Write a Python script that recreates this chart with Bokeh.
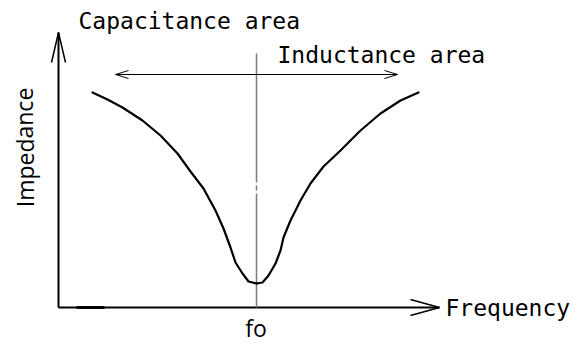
from bokeh.plotting import figure
from bokeh.models import Range1d
from bokeh.core.properties import value
from bokeh.embed import file_html
from bokeh.resources import INLINE

# Impedance curve (arbitrary units, origin at axis intersection)
freq_left = [34, 49, 64, 84, 102, 119, 132, 145, 157, 165, 172, 177, 184, 190, 198]
imp_left = [215, 208, 200, 187, 172, 154, 136, 119, 97, 79, 60, 45, 34, 26, 24]
freq_right = [198, 204, 210, 217, 222, 225, 232, 242, 252, 265, 282, 302, 322, 342, 360]
imp_right = [24, 25, 32, 44, 57, 70, 87, 107, 124, 141, 157, 177, 194, 207, 215]
fo = 198

x_label = "Frequency"
y_label = "Impedance"
cap_label = "Capacitance area"
ind_label = "Inductance area"
fo_label = "fo"

p = figure(width=587, height=345, output_backend="svg", toolbar_location=None,
           x_range=Range1d(-58, 529), y_range=Range1d(-38, 307),
           x_axis_type=None, y_axis_type=None, min_border=0)
p.grid.visible = False
p.outline_line_color = None
p.background_fill_color = "white"
p.border_fill_color = "white"

# axes with open arrow heads
p.line([0, 0], [0, 275], line_color="black", line_width=2)
p.line([-7, 0, 7], [245, 275, 245], line_color="black", line_width=1.5)
p.line([0, 381], [0, 0], line_color="black", line_width=2)
p.line([352, 381, 352], [8, 0, -8], line_color="black", line_width=1.5)
p.line([18, 46], [0, 0], line_color="black", line_width=3)

# vertical fo line (gray, with small gaps)
p.multi_line([[fo, fo], [fo, fo], [fo, fo]], [[0, 114], [117, 122], [125, 254]],
             line_color="#7a7a7a", line_width=1.5)

# double arrow between areas
p.line([57, 339], [233, 233], line_color="black", line_width=1)
p.line([70, 57, 70], [237, 233, 229], line_color="black", line_width=1)
p.line([326, 339, 326], [237, 233, 229], line_color="black", line_width=1)

# curve
p.line(freq_left, imp_left, line_color="black", line_width=2.2, line_join="round", line_cap="round")
p.line(freq_right, imp_right, line_color="black", line_width=2.2, line_join="round", line_cap="round")

mono = value("DejaVu Sans Mono")
p.text([20], [287], text=[cap_label], text_font=mono, text_font_size="23px",
       text_color="black", text_baseline="alphabetic", text_align="left")
p.text([219], [253], text=[ind_label], text_font=mono, text_font_size="23px",
       text_color="black", text_baseline="alphabetic", text_align="left")
p.text([387], [0], text=[x_label], text_font=mono, text_font_size="23px",
       text_color="black", text_baseline="alphabetic", text_align="left")
p.text([-34], [160], text=[y_label], angle=1.5708, text_font=value("Open Sans"),
       text_font_size="23px", text_color="black", text_baseline="alphabetic", text_align="center")
p.text([fo - 0.5], [-20], text=[fo_label], text_font=value("Open Sans"), text_font_size="23px",
       text_color="black", text_baseline="alphabetic", text_align="center")

open("out.html", "w").write(file_html(p, INLINE))
